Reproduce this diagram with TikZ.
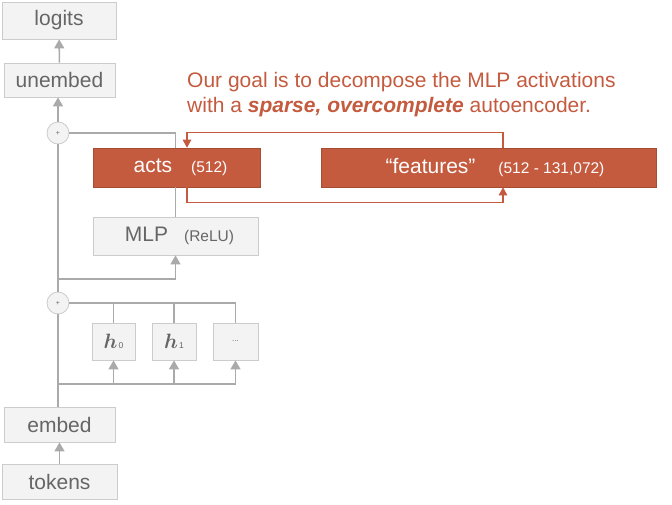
\documentclass[tikz,border=0pt]{standalone}
\usepackage{fontspec}
\setmainfont{Liberation Sans}
\usetikzlibrary{arrows.meta}

\definecolor{rust}{RGB}{196,90,62}
\definecolor{boxfill}{RGB}{243,243,243}
\definecolor{boxedge}{RGB}{204,204,204}
\definecolor{wire}{RGB}{170,170,170}
\definecolor{ink}{RGB}{102,102,102}

\tikzset{
  block/.style={draw=boxedge, fill=boxfill, line width=0.8pt, inner sep=0pt,
    text=ink, font=\fontsize{21}{21}\selectfont},
  hot/.style={draw=rust!85!black, fill=rust, line width=0.6pt, inner sep=0pt,
    text=white, font=\fontsize{21}{21}\selectfont},
  plus/.style={circle, draw=boxedge, fill=boxfill, line width=0.8pt,
    minimum size=22pt, inner sep=0pt, text=ink, font=\fontsize{7}{7}\selectfont},
  wireline/.style={draw=wire, line width=1.5pt},
  wirearr/.style={wireline, -{Triangle[width=10pt,length=9pt]}},
  rustarr/.style={draw=rust, line width=1.2pt, -{Triangle[width=8.5pt,length=8pt]}}
}
\newcommand{\aside}[1]{{\fontsize{15.5}{15.5}\selectfont #1}}
\newcommand{\head}[1]{{\fontsize{21}{21}\selectfont\boldmath$h$}\kern1pt{\fontsize{8.5}{8.5}\selectfont #1}}

\begin{document}
\begin{tikzpicture}[x=1pt, y=-1pt]
  \useasboundingbox (0,0) rectangle (672,504);

  % residual stream
  \node[block, minimum width=114pt, minimum height=37pt] (logits) at (59,20.5) {logits};
  \node[block, minimum width=111pt, minimum height=34pt] (unembed) at (59.5,80) {unembed};
  \node[plus] (plus1) at (58,133) {+};
  \node[plus] (plus2) at (58,303) {+};
  \node[block, minimum width=111pt, minimum height=35pt] (embed) at (59.5,424.5) {embed};
  \node[block, minimum width=115pt, minimum height=35pt] (tokens) at (59.5,481.5) {tokens};

  % MLP layer
  \node[block, minimum width=165pt, minimum height=38pt] (mlp) at (175.5,236) {\kern8pt MLP\hspace{16pt}\aside{(ReLU)}};
  \node[hot, minimum width=167pt, minimum height=39pt] (acts) at (176.5,167.5) {\kern8pt acts\hspace{19pt}\aside{(512)}};
  \node[hot, minimum width=335pt, minimum height=39pt] (feats) at (488.5,167.5) {\kern13pt “features”\hspace{23pt}\aside{(512 - 131,072)}};

  % attention heads
  \node[block, minimum width=43pt, minimum height=37pt] (h0) at (113.5,341.5) {\head{0}};
  \node[block, minimum width=44pt, minimum height=37pt] (h1) at (174,341.5) {\head{1}};
  \node[block, minimum width=45pt, minimum height=37pt, font=\fontsize{8}{8}\selectfont] (hdots) at (235.5,341.5) {...};

  \node[anchor=north west, align=left, inner sep=0pt, text=rust,
    font=\fontsize{21}{25}\selectfont] (goal) at (187,72.5)
    {Our goal is to decompose the MLP activations\\
     with a \textbf{\textit{sparse, overcomplete}} autoencoder.};

  \coordinate (headin) at (58,384);
  \coordinate (mlpin) at (58,279);

  % gray connectors
  \draw[wirearr] (tokens) -- (embed);
  \draw[wireline] (embed.north -| plus2) -- (plus2.south);
  \draw[wireline] (plus2.north) -- (plus1.south);
  \foreach \h in {h0, h1, hdots} {
    \draw[wirearr] (headin) -| (\h.south);
    \draw[wireline] (plus2.east) -| (\h.north);
  }
  \draw[wirearr] (mlpin) -| (mlp.south);
  \draw[wireline] (mlp.north) -- (mlp.north |- acts.south);
  \draw[wireline] (plus1.east) -| (mlp.north |- acts.north);
  \draw[wirearr] (plus1.north) -- (plus1.north |- unembed.south);
  \draw[wirearr] (unembed) -- (logits);

  % autoencoder loop
  \draw[rustarr] ([xshift=14.5pt]feats.north) -- ++(0,-15) -| ([xshift=10.5pt]acts.north);
  \draw[rustarr] ([xshift=10.5pt]acts.south) -- ++(0,15.5) -| ([xshift=14.5pt]feats.south);
\end{tikzpicture}
\end{document}
